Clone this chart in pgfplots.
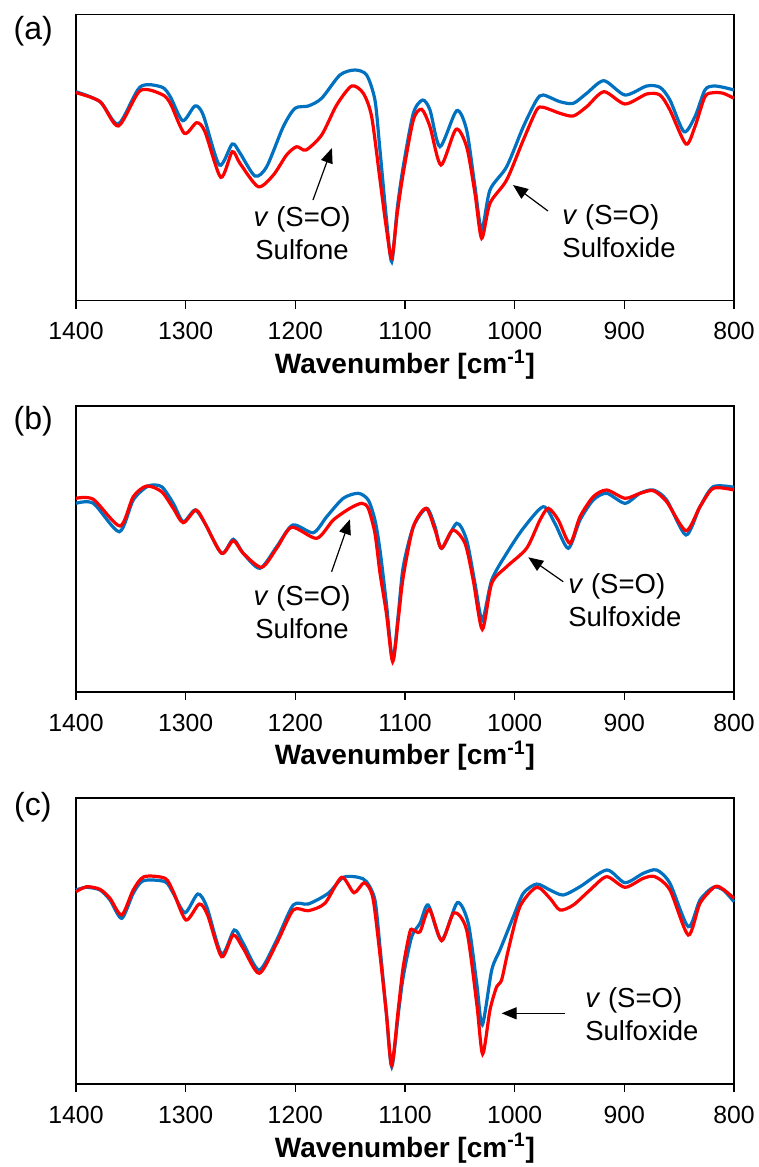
\documentclass[border=0pt]{standalone}
\usepackage{pgfplots}
\pgfplotsset{compat=1.18}
\usepackage{fontspec}
\setmainfont{Liberation Sans}
\usetikzlibrary{arrows.meta}
\definecolor{sblue}{RGB}{0,112,192}
\definecolor{sred}{RGB}{255,0,0}
\tikzset{
  ann/.style={font=\fontsize{13.75}{16.3}\selectfont, inner sep=0pt},
  arr/.style={-{Triangle[length=7.5pt,width=6pt]}, line width=0.6pt, black},
}
\pgfplotsset{
  panel/.style={
    scale only axis, width=329pt, height=143pt,
    xmin=800, xmax=1400, x dir=reverse,
    xtick={800,900,...,1400}, ytick=\empty, xtick pos=bottom,
    tick align=outside, major tick length=4pt,
    axis line style={line width=0.8pt},
    every tick/.style={black, line width=0.8pt},
    clip=false, anchor=south west,
    /pgf/number format/assume math mode=true,
    /pgf/number format/1000 sep={},
    xticklabel style={font=\fontsize{12.4}{14}\selectfont, yshift=-3.5pt},
    xlabel={\textbf{Wavenumber [cm\textsuperscript{-1}]}},
    every axis x label/.style={at={(axis description cs:0.5,0)},anchor=center,yshift=-32pt,font=\fontsize{14}{16}\selectfont},
  },
  blueline/.style={sblue, line width=1.6pt, smooth, tension=0.45, no marks},
  redline/.style={sred, line width=1.6pt, smooth, tension=0.45, no marks},
}
\begin{document}
\begin{tikzpicture}
\useasboundingbox (0,0) rectangle (379.5pt,-583.5pt);
% ---------------- (a)
\begin{axis}[panel, at={(38pt,-150.25pt)}, ymin=-2.5, ymax=283.5]
\addplot[blueline] coordinates {
(1400,206.3)(1378,196.3)(1361.4,174)(1341.6,211)(1321.9,211)(1314,201.3)(1302.7,177.3)(1291.5,192)(1284,183)(1269.3,133)(1257.5,154)(1250.5,145)(1236.8,122)(1226.1,131.3)(1211,171.3)(1200.3,189.7)(1188.2,192)(1176,199.7)(1159.3,223)(1145.6,228)(1135,223)(1127.4,198)(1123,150)(1117,80)(1112.1,36.3)(1107,90)(1101.6,131.3)(1092.4,184.7)(1083.9,198)(1077.2,188)(1068.1,151.3)(1052.9,187.3)(1043.8,168)(1036.2,111.3)(1030.1,68)(1022.5,108)(1007.3,131.3)(992.1,171.3)(980,198)(973.9,203)(958.7,196.3)(946.5,194.7)(934.3,204.7)(918.6,217.3)(899.4,203)(879.6,212)(867.5,210.7)(858.4,198)(845.6,166.3)(835.6,181.3)(826.5,208)(818.9,212)(809.8,210.7)(800,208)
};
\addplot[redline] coordinates {
(1400,205.3)(1378,196.3)(1361.4,172)(1341.6,207.3)(1321.9,203.7)(1314,194.7)(1301.2,164.7)(1290,175.3)(1282.4,166.3)(1268,120.7)(1257.5,146.3)(1250.5,134.7)(1233.8,111.3)(1220,123)(1208,143)(1198.8,151.3)(1190.3,148)(1176,163)(1162.3,193)(1148.6,212)(1138,204.7)(1130.4,181.3)(1123,120)(1117,70)(1112.1,39.7)(1107,85)(1101.6,124.7)(1092.4,178)(1084.8,188.7)(1077.2,171.3)(1067.2,133)(1053.5,168.7)(1043.8,151.3)(1036.2,104.7)(1030.1,59.7)(1022.5,94.7)(1007.3,118)(992.1,158)(980,188)(973.9,190.7)(958.7,184.7)(946.5,182)(934.3,191.3)(918.6,206.3)(899.4,194)(879.6,204)(867.5,203)(858.4,188)(843.8,154)(835.6,171.3)(826.5,201.3)(818.9,205.3)(809.8,204.7)(800,199.7)
};
\node[ann, align=center] at (axis cs:1193.9,65) {\textit{v} (S=O)\\Sulfone};
\draw[arr] (axis cs:1183.9,98) -- (axis cs:1166.6,150);
\node[ann, align=left, anchor=west] at (axis cs:956.8,67) {\textit{v} (S=O)\\Sulfoxide};
\draw[arr] (axis cs:969.6,87) -- (axis cs:1001.5,113);
\end{axis}
% ---------------- (b)
\begin{axis}[panel, at={(38pt,-345.85pt)}, ymin=1.3, ymax=287.3]
\addplot[blueline] coordinates {
(1400,189.7)(1384.2,189.7)(1360.5,161.3)(1347.8,193)(1334.1,207)(1321.9,206.3)(1311.3,189.7)(1302.2,171.3)(1291.5,183)(1282.4,169.7)(1267.2,139.7)(1256.6,153.7)(1247.5,139.7)(1232.2,124.7)(1217,146.3)(1202.4,168)(1183.6,160.3)(1171.4,176.3)(1156.3,194.7)(1142.6,199.7)(1133.5,193)(1127.4,173)(1122.8,143)(1117,90)(1111.2,33)(1106,80)(1101.6,126.3)(1092.4,166.3)(1080.2,184.7)(1072.6,166.3)(1066.6,144.7)(1052.9,169.7)(1043.8,153)(1036.2,109.7)(1029.5,73)(1020.9,113)(1007.3,139.7)(992.1,164.7)(973.9,186.3)(963.3,169.7)(951.1,144.7)(940.4,173)(928.3,193)(916.1,199.7)(899.4,189.7)(885.7,199.7)(873.6,203)(861.4,193)(843.8,158)(831,186.3)(818.9,206.3)(800,205.7)
};
\addplot[redline] coordinates {
(1400,194.7)(1384.2,193.7)(1359.9,167)(1347.8,196.3)(1335.6,207)(1321.9,201.3)(1311.3,184.7)(1302.2,170.3)(1290.6,183)(1282.4,169.7)(1267.2,139.7)(1256.6,152.3)(1247.5,139.7)(1230.7,125.7)(1217,144.7)(1203.3,165.7)(1180.5,154.7)(1165.4,173)(1150.2,184.7)(1139.5,189.7)(1133.5,184.7)(1127.4,159.7)(1122.8,120)(1117,80)(1111.2,31.3)(1106,75)(1101.6,116.3)(1092.4,166.3)(1080.8,184.7)(1072.6,163)(1066.6,144.7)(1056.5,163)(1045.3,149.7)(1037.8,113)(1029.5,63.7)(1020.9,109.7)(1007.3,126.3)(989.1,144.7)(976.9,173)(969.3,184.7)(960.2,173)(949.6,149.7)(940.4,176.3)(928.3,196.3)(916.1,203)(899.4,194.7)(885.7,199.7)(873.6,202.3)(861.4,191.3)(843.8,162.3)(831,186.3)(818.9,204.7)(800,203)
};
\node[ann, align=center] at (axis cs:1193.9,81) {\textit{v} (S=O)\\Sulfone};
\draw[arr] (axis cs:1166.9,121.3) -- (axis cs:1150.2,173.7);
\node[ann, align=left, anchor=west] at (axis cs:951.4,93) {\textit{v} (S=O)\\Sulfoxide};
\draw[arr] (axis cs:955.7,111.3) -- (axis cs:987.6,135.7);
\end{axis}
% ---------------- (c)
\begin{axis}[panel, at={(38pt,-542pt)}, ymin=-1, ymax=285]
\addplot[blueline] coordinates {
(1400,193)(1390.3,195.7)(1378.1,193)(1369,183)(1358.3,164.7)(1347.8,189.7)(1338.6,202.3)(1318.8,201.3)(1311.3,189.7)(1300.6,170.3)(1289,189)(1280.8,176.3)(1267.2,129)(1255.7,153)(1247.5,139.7)(1232.9,113)(1217,143)(1201.9,178)(1188.2,179)(1170,189.7)(1156.3,205.7)(1142.6,205.7)(1135,201.3)(1127.4,183)(1122.8,136)(1117,70)(1112.1,16.3)(1106,70)(1101.6,106.3)(1093.9,146.3)(1086.3,159.7)(1078.8,178)(1066.6,143)(1052.3,180.3)(1042.3,159.7)(1034.6,99.7)(1029.5,58)(1020.9,113)(1013.4,133)(1001.2,166.3)(992.1,189.7)(980,199)(967.8,193)(955.7,188)(940.4,196.3)(916.1,213)(899.4,200.3)(882.7,209.7)(870.5,213)(858.4,199.7)(841.7,156.3)(831,183)(818.9,195.7)(809.8,193)(800,181.3)
};
\addplot[redline] coordinates {
(1400,191.3)(1390.3,196.3)(1378.1,193.7)(1369,184.7)(1358.3,168)(1347.8,193)(1338,206.3)(1318.8,204.7)(1311.3,191.3)(1299.7,163)(1287.6,179)(1280,168)(1267.2,126.3)(1256.6,148)(1247.5,134.7)(1232.9,109.7)(1217,139.7)(1201.9,173)(1188.2,172.3)(1173,179.7)(1157.8,205.7)(1146.5,190.3)(1137.1,200.3)(1129.5,186.3)(1123.5,135)(1117,70)(1112.1,18)(1106,75)(1101.6,116.3)(1095.5,151.3)(1092.4,153)(1086.3,151.3)(1077.8,173.7)(1066.6,142.3)(1055.3,170.3)(1043.8,153)(1034.6,79.7)(1029.2,29)(1022.5,73)(1016.4,96.3)(1011.9,103)(1005.8,133)(995.2,176.3)(980,195.7)(967.8,184.7)(958.7,173)(946.5,178)(931.3,193)(916.1,206.3)(899.4,195.7)(882.7,204.7)(872,206.3)(858.4,193)(841.7,148)(831,179.7)(817.4,196.3)(809.8,193.7)(800,184.7)
};
\node[ann, align=left, anchor=west] at (axis cs:935.9,69) {\textit{v} (S=O)\\Sulfoxide};
\draw[arr] (axis cs:954.1,69.7) -- (axis cs:1011.9,69.7);
\end{axis}
% panel labels
\node[font=\fontsize{16}{18}\selectfont] at (16.65pt,-15.4pt) {(a)};
\node[font=\fontsize{16}{18}\selectfont] at (16.65pt,-210.4pt) {(b)};
\node[font=\fontsize{16}{18}\selectfont] at (16.4pt,-403.75pt) {(c)};
\end{tikzpicture}
\end{document}
